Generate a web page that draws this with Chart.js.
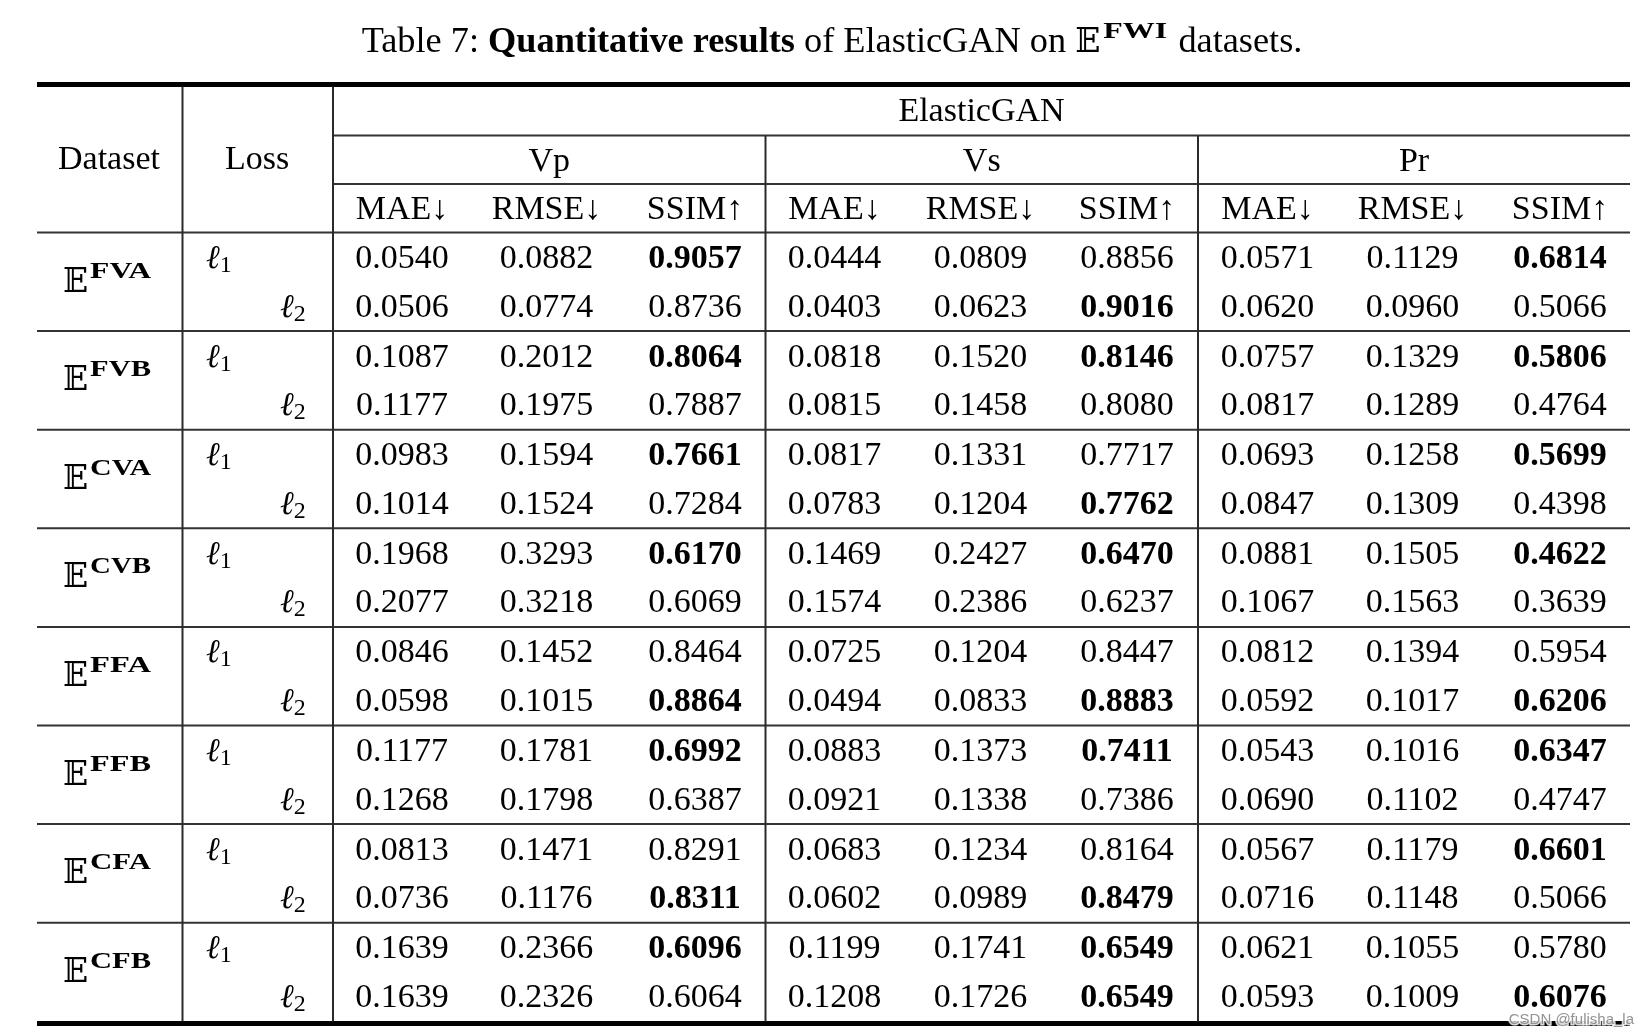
<!DOCTYPE html>
<html>
<head>
<meta charset="utf-8">
<script src="https://cdn.jsdelivr.net/npm/chart.js@4.4.1/dist/chart.umd.min.js"></script>
<style>
html, body { margin: 0; padding: 0; background: #fff; }
canvas { display: block; }
</style>
</head>
<body>
<canvas id="table" width="1648" height="1035"></canvas>
<script>
const datasetNames = ["FVA", "FVB", "CVA", "CVB", "FFA", "FFB", "CFA", "CFB"];
const lossNames = ["1", "2"];
const modalities = ["Vp", "Vs", "Pr"];
const metricNames = ["MAE\u2193", "RMSE\u2193", "SSIM\u2191"];

// rows: FVA l1, FVA l2, FVB l1, FVB l2, ...
const vpMAE  = [0.0540, 0.0506, 0.1087, 0.1177, 0.0983, 0.1014, 0.1968, 0.2077, 0.0846, 0.0598, 0.1177, 0.1268, 0.0813, 0.0736, 0.1639, 0.1639];
const vpRMSE = [0.0882, 0.0774, 0.2012, 0.1975, 0.1594, 0.1524, 0.3293, 0.3218, 0.1452, 0.1015, 0.1781, 0.1798, 0.1471, 0.1176, 0.2366, 0.2326];
const vpSSIM = [0.9057, 0.8736, 0.8064, 0.7887, 0.7661, 0.7284, 0.6170, 0.6069, 0.8464, 0.8864, 0.6992, 0.6387, 0.8291, 0.8311, 0.6096, 0.6064];
const vsMAE  = [0.0444, 0.0403, 0.0818, 0.0815, 0.0817, 0.0783, 0.1469, 0.1574, 0.0725, 0.0494, 0.0883, 0.0921, 0.0683, 0.0602, 0.1199, 0.1208];
const vsRMSE = [0.0809, 0.0623, 0.1520, 0.1458, 0.1331, 0.1204, 0.2427, 0.2386, 0.1204, 0.0833, 0.1373, 0.1338, 0.1234, 0.0989, 0.1741, 0.1726];
const vsSSIM = [0.8856, 0.9016, 0.8146, 0.8080, 0.7717, 0.7762, 0.6470, 0.6237, 0.8447, 0.8883, 0.7411, 0.7386, 0.8164, 0.8479, 0.6549, 0.6549];
const prMAE  = [0.0571, 0.0620, 0.0757, 0.0817, 0.0693, 0.0847, 0.0881, 0.1067, 0.0812, 0.0592, 0.0543, 0.0690, 0.0567, 0.0716, 0.0621, 0.0593];
const prRMSE = [0.1129, 0.0960, 0.1329, 0.1289, 0.1258, 0.1309, 0.1505, 0.1563, 0.1394, 0.1017, 0.1016, 0.1102, 0.1179, 0.1148, 0.1055, 0.1009];
const prSSIM = [0.6814, 0.5066, 0.5806, 0.4764, 0.5699, 0.4398, 0.4622, 0.3639, 0.5954, 0.6206, 0.6347, 0.4747, 0.6601, 0.5066, 0.5780, 0.6076];

const columns = [vpMAE, vpRMSE, vpSSIM, vsMAE, vsRMSE, vsSSIM, prMAE, prRMSE, prSSIM];

// geometry, in page pixels
const layout = {
    left: 37, right: 1630,
    vSep: [182.5, 333, 765.5, 1198],
    datasetX: 107, lossX: 257,
    metricX: [402, 546.5, 695, 834.5, 980.5, 1127, 1267.5, 1412.5, 1560],
    topRule: 84.5, ganLine: 135.5, modLine: 184, headLine: 232.5,
    groupH: 98.6, bottomRule: 1023.5
};

const SERIF = '"Liberation Serif", "Times New Roman", serif';
const font = (px, bold) => (bold ? "bold " : "") + px + "px " + SERIF;

function rowBase(r) {
    return layout.headLine + Math.floor(r / 2) * layout.groupH + (r % 2 ? 84 : 35.5);
}

// draws a list of text pieces centred on cx; a piece with "fit" is stretched to that width
function drawRuns(ctx, runs, cx, y) {
    let natural = runs.map(run => {
        ctx.font = run.font;
        return ctx.measureText(run.text).width;
    });
    let widths = runs.map((run, i) => (run.fit || natural[i]) + (run.gap || 0));
    let total = widths.reduce((a, b) => a + b, 0);
    let x = cx - total / 2;
    ctx.textAlign = "left";
    runs.forEach((run, i) => {
        ctx.font = run.font;
        ctx.save();
        ctx.translate(x, y + (run.dy || 0));
        if (run.fit) ctx.scale(run.fit / natural[i], 1);
        ctx.fillText(run.text, 0, 0);
        ctx.restore();
        x += widths[i];
    });
}

const tablePlugin = {
    id: "tablePlugin",
    afterDatasetsDraw(chart) {
        const ctx = chart.ctx;
        const xs = chart.scales.x, ys = chart.scales.y;
        const px = v => xs.getPixelForValue(v);
        const py = v => ys.getPixelForValue(v);

        ctx.save();
        ctx.fillStyle = "#000";
        ctx.textBaseline = "alphabetic";

        function hLine(x1, x2, y, w, color) {
            ctx.strokeStyle = color;
            ctx.lineWidth = w;
            ctx.beginPath();
            ctx.moveTo(px(x1), py(y));
            ctx.lineTo(px(x2), py(y));
            ctx.stroke();
        }
        function vLine(x, y1, y2) {
            ctx.strokeStyle = "#2a2a2a";
            ctx.lineWidth = 2;
            ctx.beginPath();
            ctx.moveTo(px(x), py(y1));
            ctx.lineTo(px(x), py(y2));
            ctx.stroke();
        }

        // rules
        hLine(layout.left, layout.right, layout.topRule, 5, "#000");
        hLine(layout.left, layout.right, layout.bottomRule, 5, "#000");
        hLine(layout.vSep[1], layout.right, layout.ganLine, 2, "#333");
        hLine(layout.vSep[1], layout.right, layout.modLine, 2, "#333");
        for (let g = 0; g < datasetNames.length; g++) {
            hLine(layout.left, layout.right, layout.headLine + g * layout.groupH, 2, "#333");
        }
        vLine(layout.vSep[0], layout.topRule + 2, layout.bottomRule - 2);
        vLine(layout.vSep[1], layout.topRule + 2, layout.bottomRule - 2);
        vLine(layout.vSep[2], layout.ganLine, layout.bottomRule - 2);
        vLine(layout.vSep[3], layout.ganLine, layout.bottomRule - 2);

        // title
        drawRuns(ctx, [
            { text: "Table 7: ", font: font(36.3) },
            { text: "Quantitative results", font: font(36.3, true) },
            { text: " of ElasticGAN on ", font: font(36.3) },
            { text: "\u{1D53C}", font: '33px "DejaVu Serif", "DejaVu Sans"', gap: 3 },
            { text: "FWI", font: font(23, true), dy: -14, fit: 64, gap: 2 },
            { text: " datasets.", font: font(36.3) }
        ], px(832), py(52));

        // headers
        ctx.textAlign = "center";
        ctx.font = font(34);
        ctx.fillText("ElasticGAN", px((layout.vSep[1] + layout.right) / 2), py(121));
        ctx.fillText("Dataset", px(109), py(168.5));
        ctx.fillText("Loss", px(layout.lossX), py(168.5));
        const modEdges = [layout.vSep[1], layout.vSep[2], layout.vSep[3], layout.right];
        modalities.forEach((m, i) => {
            ctx.fillText(m, px((modEdges[i] + modEdges[i + 1]) / 2), py(170.5));
        });
        layout.metricX.forEach((x, c) => {
            ctx.fillText(metricNames[c % 3], px(x), py(218.5));
        });

        // dataset names and losses
        datasetNames.forEach((name, g) => {
            const top = layout.headLine + g * layout.groupH;
            drawRuns(ctx, [
                { text: "\u{1D53C}", font: '33px "DejaVu Serif", "DejaVu Sans"', gap: 2 },
                { text: name, font: font(24, true), dy: -14, fit: 61 }
            ], px(layout.datasetX), py(top + 59));
            lossNames.forEach((l, k) => {
                const base = rowBase(g * 2 + k);
                const x0 = k === 0 ? 206 : 280;
                ctx.textAlign = "left";
                ctx.font = "italic 33px " + SERIF;
                ctx.fillText("\u2113", px(x0), py(base));
                const w = ctx.measureText("\u2113").width;
                ctx.font = font(24);
                ctx.fillText(l, px(x0) + w, py(base + 4));
            });
        });

        // cell values, placed at the points Chart.js laid out
        ctx.textAlign = "center";
        chart.data.datasets.forEach((ds, i) => {
            const meta = chart.getDatasetMeta(i);
            meta.data.forEach((pt, r) => {
                const v = ds.values[r];
                const partner = ds.values[r % 2 ? r - 1 : r + 1];
                const bold = ds.higherBetter && v >= partner;
                ctx.font = font(34, bold);
                ctx.fillText(v.toFixed(4), pt.x, pt.y);
            });
        });

        // watermark
        ctx.textAlign = "right";
        ctx.font = '15px "Liberation Sans", sans-serif';
        ctx.lineWidth = 3;
        ctx.strokeStyle = "rgba(255,255,255,0.85)";
        ctx.strokeText("CSDN @fulisha_la", px(1634), py(1024));
        ctx.fillStyle = "rgba(140,140,140,0.95)";
        ctx.fillText("CSDN @fulisha_la", px(1634), py(1024));
        ctx.restore();
    }
};

new Chart(document.getElementById("table"), {
    type: "scatter",
    data: {
        datasets: columns.map((vals, c) => ({
            label: modalities[Math.floor(c / 3)] + " " + metricNames[c % 3],
            values: vals,
            higherBetter: c % 3 === 2,
            data: vals.map((v, r) => ({ x: layout.metricX[c], y: rowBase(r) })),
            pointRadius: 0,
            pointHoverRadius: 0,
            showLine: false
        }))
    },
    options: {
        responsive: false,
        animation: false,
        devicePixelRatio: 1,
        layout: { padding: 0 },
        scales: {
            x: { type: "linear", min: 0, max: 1648, display: false },
            y: { type: "linear", min: 0, max: 1035, reverse: true, display: false }
        },
        plugins: { legend: { display: false }, tooltip: { enabled: false } }
    },
    plugins: [tablePlugin]
});
</script>
</body>
</html>
